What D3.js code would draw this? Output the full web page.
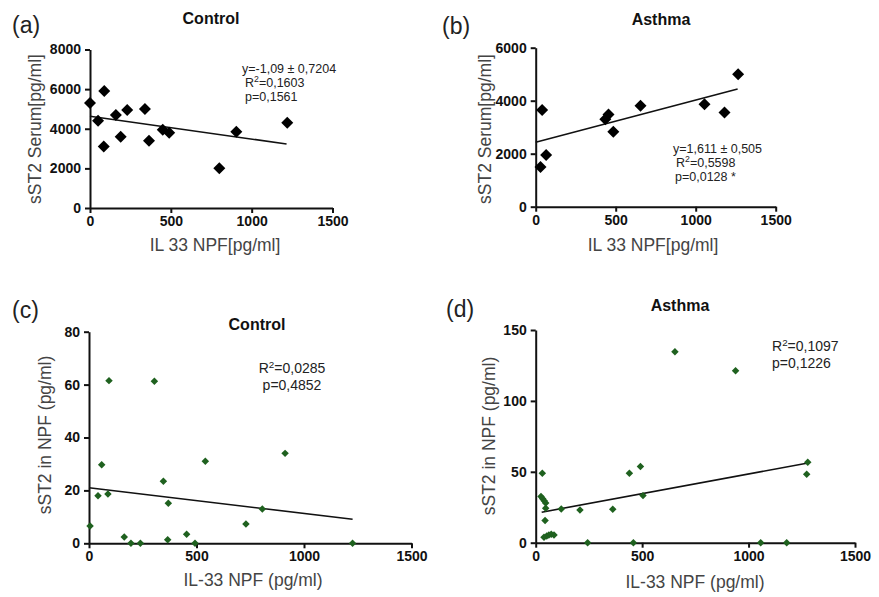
<!DOCTYPE html>
<html lang="en">
<head>
<meta charset="utf-8">
<title>IL-33 NPF vs sST2</title>
<script src="https://cdn.jsdelivr.net/npm/d3@7"></script>
<style>
    body { margin: 0; background: #fff; }
    text { font-family: "Liberation Sans", Arial, sans-serif; }
</style>
</head>
<body>
<script type="text/javascript">

    // (a) Control - serum sST2
    var aX = [0, 50, 88, 85, 160, 190, 230, 340, 365, 450, 490, 800, 905, 1220];
    var aY = [5300, 4400, 5900, 3100, 4700, 3600, 4950, 5000, 3400, 3950, 3800, 2000, 3850, 4300];
    var aLine = [[0, 4627], [1216, 3230]];
    var aNotes = ["y=-1,09 ± 0,7204", "R²=0,1603", "p=0,1561"];

    // (b) Asthma - serum sST2
    var bX = [30, 40, 65, 435, 455, 485, 655, 1055, 1180, 1265];
    var bY = [1500, 3650, 1950, 3300, 3480, 2830, 3810, 3870, 3550, 5000];
    var bLine = [[0, 2430], [1262, 4441]];
    var bNotes = ["y=1,611 ± 0,505", "R²=0,5598", "p=0,0128 *"];

    // (c) Control - NPF sST2
    var cX = [5, 42, 59, 88, 93, 164, 195, 239, 304, 346, 369, 366, 454, 493, 541, 730, 806, 912, 1226];
    var cY = [6.5, 18, 29.7, 18.6, 61.5, 2.4, 0, 0, 61.3, 23.5, 15.1, 1.3, 3.4, 0, 31, 7.3, 13, 34, 0];
    var cLine = [[0, 21], [1226, 9.1]];
    var cNotes = ["R²=0,0285", "p=0,4852"];

    // (d) Asthma - NPF sST2
    var dX = [31, 25, 33, 40, 47, 47, 44, 39, 52, 62, 73, 86, 120, 208, 244, 362, 440, 459, 492, 504, 654, 939, 1057, 1179, 1278, 1273];
    var dY = [49, 32.5, 31, 29.5, 28, 24.3, 15.6, 3.8, 4.7, 5.4, 5.9, 5.4, 23.8, 23.1, 0, 23.6, 49, 0, 53.8, 33.2, 134.7, 121.3, 0, 0, 56.7, 48.2];
    var dLine = [[28, 21.5], [1273, 56]];
    var dNotes = ["R²=0,1097", "p=0,1226"];

    var xTicks = [0, 500, 1000, 1500];
    var serumYTicks = { a: [0, 2000, 4000, 6000, 8000], b: [0, 2000, 4000, 6000] };
    var npfYTicks = { c: [0, 20, 40, 60, 80], d: [0, 50, 100, 150] };

    var svg = d3.select("body").append("svg")
        .attr("width", 879)
        .attr("height", 597);

    function drawPanel(p) {
        var g = svg.append("g");

        var x = d3.scaleLinear().domain([0, 1500]).range([p.left, p.right]);
        var y = d3.scaleLinear().domain([0, p.yMax]).range([p.bottom, p.top]);

        var xAxis = g.append("g")
            .attr("transform", "translate(0," + p.bottom + ")")
            .call(d3.axisBottom(x).tickValues(xTicks).tickFormat(d3.format("d"))
                .tickSize(5).tickSizeOuter(0).tickPadding(3));
        var yAxis = g.append("g")
            .attr("transform", "translate(" + p.left + ",0)")
            .call(d3.axisLeft(y).tickValues(p.yTicks).tickFormat(d3.format("d"))
                .tickSize(5).tickSizeOuter(0).tickPadding(4));

        [xAxis, yAxis].forEach(function (ax) {
            ax.select(".domain").attr("stroke", "#111").attr("stroke-width", 2);
            ax.selectAll(".tick line").attr("stroke", "#111").attr("stroke-width", 2);
            ax.selectAll(".tick text")
                .attr("font-family", "'Liberation Sans', Arial, sans-serif")
                .attr("font-size", 14)
                .attr("font-weight", "bold")
                .attr("fill", "#111");
        });

        // regression line
        g.append("line")
            .attr("x1", x(p.line[0][0])).attr("y1", y(p.line[0][1]))
            .attr("x2", x(p.line[1][0])).attr("y2", y(p.line[1][1]))
            .attr("stroke", "#111")
            .attr("stroke-width", 1.6);

        var pts = p.xs.map(function (v, i) { return [v, p.ys[i]]; });
        g.selectAll("path.pt")
            .data(pts)
            .enter()
            .append("path")
            .attr("class", "pt")
            .attr("d", d3.symbol().type(d3.symbolSquare).size(p.size))
            .attr("transform", function (d) {
                return "translate(" + x(d[0]) + "," + y(d[1]) + ") rotate(45)";
            })
            .attr("fill", p.color);

        // panel letter
        g.append("text")
            .attr("x", p.letterPos[0]).attr("y", p.letterPos[1])
            .attr("font-size", 23)
            .attr("fill", "#222")
            .text(p.letter);

        // title
        g.append("text")
            .attr("x", p.titlePos[0]).attr("y", p.titlePos[1])
            .attr("text-anchor", "middle")
            .attr("font-size", 16)
            .attr("font-weight", "bold")
            .attr("fill", "#111")
            .text(p.title);

        // axis titles
        g.append("text")
            .attr("x", p.xLabelPos[0]).attr("y", p.xLabelPos[1])
            .attr("text-anchor", "middle")
            .attr("font-size", 17.5)
            .attr("fill", "#444")
            .text(p.xLabel);
        g.append("text")
            .attr("transform", "translate(" + p.yLabelPos[0] + "," + p.yLabelPos[1] + ") rotate(-90)")
            .attr("text-anchor", "middle")
            .attr("dy", "0.36em")
            .attr("font-size", 17.5)
            .attr("fill", "#444")
            .text(p.yLabel);

        // statistics
        p.notes.forEach(function (s, i) {
            var t = g.append("text")
                .attr("x", p.notePos[0] + (p.noteShift ? p.noteShift[i] : 0))
                .attr("y", p.notePos[1] + i * p.noteGap)
                .attr("text-anchor", p.noteAnchor)
                .attr("font-size", p.noteSize)
                .attr("fill", "#222");
            var parts = s.split("²");
            if (parts.length > 1) {
                t.append("tspan").text(parts[0]);
                t.append("tspan").attr("dy", -p.noteSize * 0.38).attr("font-size", p.noteSize * 0.7).text("2");
                t.append("tspan").attr("dy", p.noteSize * 0.38).text(parts[1]);
            } else {
                t.text(s);
            }
        });
    }

    drawPanel({
        xs: aX, ys: aY, line: aLine, notes: aNotes, yTicks: serumYTicks.a, yMax: 8000,
        left: 90, right: 332.5, top: 49.5, bottom: 208,
        size: 72, color: "#000",
        letter: "(a)", letterPos: [12, 33], title: "Control", titlePos: [211, 24],
        xLabel: "IL 33 NPF[pg/ml]", xLabelPos: [215, 251],
        yLabel: "sST2 Serum[pg/ml]", yLabelPos: [35, 129],
        notePos: [242, 73], noteShift: [0, 3, 3], noteGap: 14, noteAnchor: "start", noteSize: 12.5
    });

    drawPanel({
        xs: bX, ys: bY, line: bLine, notes: bNotes, yTicks: serumYTicks.b, yMax: 6000,
        left: 535.7, right: 775.7, top: 47.7, bottom: 206.7,
        size: 72, color: "#000",
        letter: "(b)", letterPos: [442, 34], title: "Asthma", titlePos: [661, 25],
        xLabel: "IL 33 NPF[pg/ml]", xLabelPos: [653, 251],
        yLabel: "sST2 Serum[pg/ml]", yLabelPos: [485, 129],
        notePos: [673, 153], noteShift: [0, 3, 2], noteGap: 14, noteAnchor: "start", noteSize: 12.5
    });

    drawPanel({
        xs: cX, ys: cY, line: cLine, notes: cNotes, yTicks: npfYTicks.c, yMax: 80,
        left: 89, right: 411.5, top: 331.7, bottom: 543.3,
        size: 28, color: "#1f611f",
        letter: "(c)", letterPos: [12, 318], title: "Control", titlePos: [257, 330],
        xLabel: "IL-33 NPF (pg/ml)", xLabelPos: [253, 586],
        yLabel: "sST2 in NPF (pg/ml)", yLabelPos: [45, 435],
        notePos: [292, 373], noteGap: 17, noteAnchor: "middle", noteSize: 14
    });

    drawPanel({
        xs: dX, ys: dY, line: dLine, notes: dNotes, yTicks: npfYTicks.d, yMax: 150,
        left: 535.7, right: 855, top: 330, bottom: 542.7,
        size: 28, color: "#1f611f",
        letter: "(d)", letterPos: [446, 317], title: "Asthma", titlePos: [680, 311],
        xLabel: "IL-33 NPF (pg/ml)", xLabelPos: [695, 588],
        yLabel: "sST2 in NPF (pg/ml)", yLabelPos: [489, 436],
        notePos: [772, 351], noteGap: 17, noteAnchor: "start", noteSize: 14
    });

</script>
</body>
</html>
